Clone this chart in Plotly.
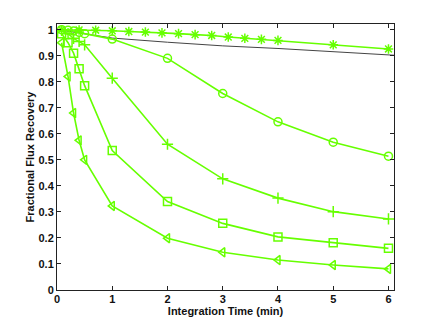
import plotly.graph_objects as go

# integration time (min)
t_star = [0.083, 0.4, 0.7, 1.0, 1.3, 1.6, 1.9, 2.2, 2.5, 2.8, 3.1, 3.4, 3.7, 4.0, 5, 6]
rec_star = [1.0, 0.999, 0.998, 0.996, 0.993, 0.991, 0.988, 0.985, 0.981, 0.978,
            0.972, 0.967, 0.963, 0.959, 0.942, 0.926]

t = [0.083, 0.2, 0.3, 0.4, 0.5, 1, 2, 3, 4, 5, 6]
rec_circle = [1.0, 0.998, 0.995, 0.99, 0.985, 0.964, 0.89, 0.755, 0.646, 0.568, 0.514]
rec_plus = [0.997, 0.985, 0.967, 0.955, 0.942, 0.814, 0.56, 0.427, 0.353, 0.301, 0.273]
rec_square = [0.985, 0.95, 0.91, 0.85, 0.785, 0.536, 0.34, 0.256, 0.204, 0.182, 0.16]
rec_tri = [0.95, 0.82, 0.68, 0.575, 0.50, 0.323, 0.199, 0.145, 0.115, 0.096, 0.081]

t_ref = [0.083, 1, 2, 3, 4, 5, 6, 6.1]
rec_ref = [0.998, 0.968, 0.952, 0.938, 0.928, 0.915, 0.904, 0.902]

verde = '#66ff00'
fig = go.Figure()

fig.add_trace(go.Scatter(x=t_ref, y=rec_ref, mode='lines',
                         line=dict(color='#444444', width=1)))

series = [
    (t_star, rec_star, 'asterisk-open'),
    (t, rec_circle, 'circle-open'),
    (t, rec_plus, 'cross-thin-open'),
    (t, rec_square, 'square-open'),
    (t, rec_tri, 'triangle-left-open'),
]
for xs, ys, sym in series:
    fig.add_trace(go.Scatter(
        x=xs, y=ys, mode='lines+markers',
        line=dict(color=verde, width=1.6),
        marker=dict(symbol=sym, size=8, color=verde, line=dict(color=verde, width=1.5))
    ))

fuente = dict(family='Liberation Sans, Arial', size=11, color='#111111', weight='bold')
eje = dict(showgrid=False, zeroline=False, showline=True, linecolor='#222222',
           linewidth=1, mirror='ticks', ticks='inside', ticklen=4,
           tickcolor='#222222', automargin=False, tickfont=fuente)

# la página añade 8px de margen al body
fig.update_layout(
    width=428, height=319,
    margin=dict(l=49, r=42, t=16, b=37),
    paper_bgcolor='white', plot_bgcolor='white',
    showlegend=False,
    xaxis=dict(eje, range=[0, 6.1], tickvals=[0, 1, 2, 3, 4, 5, 6],
               ticklabelstandoff=-1,
               title=dict(text='Integration Time (min)', standoff=0, font=fuente)),
    yaxis=dict(eje, range=[0, 1.022], tickvals=[0, 0.1, 0.2, 0.3, 0.4, 0.5, 0.6, 0.7, 0.8, 0.9, 1],
               ticktext=['0', '0.1', '0.2', '0.3', '0.4', '0.5', '0.6', '0.7', '0.8', '0.9', '1'],
               title=dict(text='Fractional Flux Recovery', standoff=1, font=fuente)),
)

fig.write_html("out.html")
